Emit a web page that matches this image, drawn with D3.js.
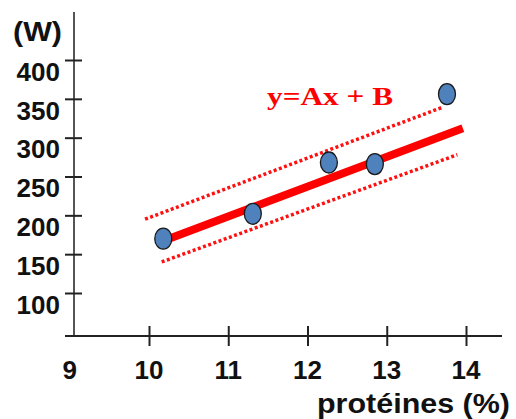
<!DOCTYPE html>
<html>
<head>
<meta charset="utf-8">
<script src="https://cdn.jsdelivr.net/npm/d3@7"></script>
<style>
  body { margin: 0; background: #fff; }
  text { font-family: "Liberation Sans", Arial, sans-serif; font-weight: bold; fill: #111; }
</style>
</head>
<body>
<div id="chart"></div>
<script>
// valeurs
const xTicks = [10, 11, 12, 13, 14];
const xLabels = [9, 10, 11, 12, 13, 14];
const yTicks = [100, 150, 200, 250, 300, 350, 400];
const proteines = [10.18, 11.31, 12.27, 12.85, 13.76];
const puissance = [170, 202, 268, 266, 356];
// droite de régression et bornes (pointillés)
const fitX = [10.1, 13.96];
const fitY = [164, 312];
const upperX = [9.95, 13.7];
const upperY = [195, 339];
const lowerX = [10.16, 13.89];
const lowerY = [140, 278];

const width = 516, height = 419;

const svg = d3.select("#chart")
  .append("svg")
  .attr("width", width)
  .attr("height", height);

const x = d3.scaleLinear().domain([9, 14]).range([69.75, 466]);
const y = d3.scaleLinear().domain([100, 400]).range([293, 60]);

// axes
svg.append("line")
  .attr("x1", 74).attr("x2", 74).attr("y1", 12).attr("y2", 336)
  .attr("stroke", "#555").attr("stroke-width", 2);
svg.append("line")
  .attr("x1", 65).attr("x2", 502).attr("y1", 336).attr("y2", 336)
  .attr("stroke", "#222").attr("stroke-width", 2);

const yAxis = svg.append("g")
  .attr("transform", "translate(82,0)")
  .call(d3.axisLeft(y).tickValues(yTicks).tickSize(17).tickPadding(5));
yAxis.select(".domain").remove();
yAxis.selectAll(".tick line").attr("stroke", "#222").attr("stroke-width", 2);
yAxis.selectAll(".tick text")
  .attr("dy", "0.78em")
  .style("font-size", "26px")
  .attr("fill", "#111");

const xAxis = svg.append("g")
  .attr("transform", "translate(0,326)")
  .call(d3.axisBottom(x).tickValues(xTicks).tickSize(20).tickFormat(""));
xAxis.select(".domain").remove();
xAxis.selectAll(".tick line").attr("stroke", "#222").attr("stroke-width", 2);

svg.append("g")
  .selectAll("text")
  .data(xLabels)
  .join("text")
  .attr("x", d => x(d))
  .attr("y", 379)
  .attr("text-anchor", "middle")
  .style("font-size", "26px")
  .text(d => d);

// titres des axes (texte un peu étiré comme sur l'original)
svg.append("text")
  .attr("x", 13).attr("y", 41)
  .attr("textLength", 49).attr("lengthAdjust", "spacingAndGlyphs")
  .style("font-size", "27px")
  .text("(W)");
svg.append("text")
  .attr("x", 317).attr("y", 413)
  .attr("textLength", 193).attr("lengthAdjust", "spacingAndGlyphs")
  .style("font-size", "27px")
  .text("protéines (%)");

const line = d3.line().x(d => x(d[0])).y(d => y(d[1]));

svg.append("path")
  .datum(d3.zip(upperX, upperY))
  .attr("d", line)
  .attr("fill", "none")
  .attr("stroke", "#ff1010")
  .attr("stroke-width", 3.5)
  .attr("stroke-dasharray", "3,2.5");
svg.append("path")
  .datum(d3.zip(lowerX, lowerY))
  .attr("d", line)
  .attr("fill", "none")
  .attr("stroke", "#ff1010")
  .attr("stroke-width", 3.5)
  .attr("stroke-dasharray", "3,2.5");
svg.append("path")
  .datum(d3.zip(fitX, fitY))
  .attr("d", line)
  .attr("fill", "none")
  .attr("stroke", "#ff0000")
  .attr("stroke-width", 8);

svg.append("g")
  .selectAll("ellipse")
  .data(d3.zip(proteines, puissance))
  .join("ellipse")
  .attr("cx", d => x(d[0]))
  .attr("cy", d => y(d[1]))
  .attr("rx", 8.5)
  .attr("ry", 10.5)
  .attr("fill", "#4f81bd")
  .attr("stroke", "#1a1a1a")
  .attr("stroke-width", 1.3);

svg.append("text")
  .attr("x", 267).attr("y", 105)
  .attr("textLength", 126).attr("lengthAdjust", "spacingAndGlyphs")
  .style("font-family", "'Liberation Serif', 'Times New Roman', serif")
  .style("font-size", "25px")
  .style("fill", "#ff0000")
  .text("y=Ax + B");
</script>
</body>
</html>
